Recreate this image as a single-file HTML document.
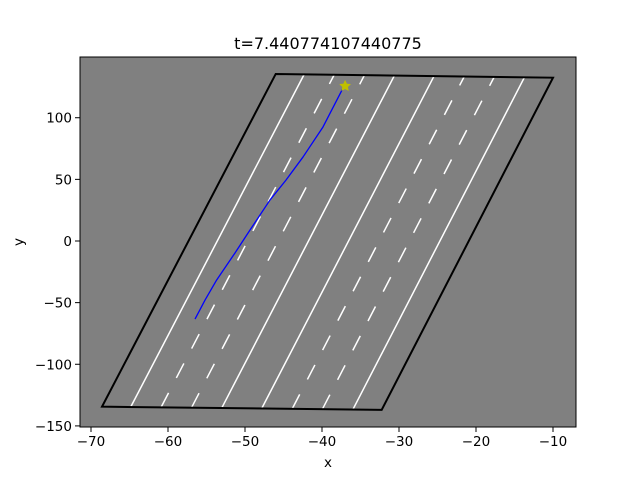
<!DOCTYPE html>
<html><head><meta charset="utf-8"><style>
body{margin:0;background:#fff;}
svg{display:block;font-family:"DejaVu Sans","Liberation Sans",sans-serif;}
</style></head><body>
<svg id="chart" width="640" height="480" viewBox="0 0 640 480"></svg>
<script>
const xTicks=[-70,-60,-50,-40,-30,-20,-10];
const yTicks=[-150,-100,-50,0,50,100];
const roadBL=[-68.57,-134.4];
const roadBR=[-32.25,-137.0];
const roadTR=[-10.0,132.5];
const roadTL=[-46.01,135.5];
const solidFractions=[0.1026,0.428,0.571,0.897];
const dashedFractions=[0.211,0.320,0.680,0.788];
const trajX=[-56.49,-55.19,-53.68,-51.30,-49.35,-46.75,-44.68,-42.47,-39.87,-37.27];
const trajY=[-63.3,-47.9,-31.6,-9.7,8.9,33.3,49.4,68.1,92.5,124.1];
const carPos=[-37.0,125.7];

const L=80,R=576,T=57,B=427;
function X(d){return 91+(d+70)*7.7;}
function Y(d){return 241-d*1.2327;}
const svg=document.getElementById('chart');
const NS='http://www.w3.org/2000/svg';
function mk(tag,attrs,parent){const e=document.createElementNS(NS,tag);for(const k in attrs)e.setAttribute(k,attrs[k]);(parent||svg).appendChild(e);return e;}

const bg=mk('rect',{x:L,y:T,width:R-L,height:B-T,fill:'#808080'});



const defs=mk('defs',{});
const cp=mk('clipPath',{id:'roadclip'},defs);
const corners=[roadBL,roadBR,roadTR,roadTL];
const ptsStr=corners.map(c=>X(c[0])+','+Y(c[1])).join(' ');
mk('polygon',{points:ptsStr},cp);
const cp2=mk('clipPath',{id:'axclip'},defs);
mk('rect',{x:L,y:T,width:R-L,height:B-T},cp2);

const g=mk('g',{'clip-path':'url(#roadclip)'});
function lanePts(f){
  const b=[roadBL[0]+(roadBR[0]-roadBL[0])*f, roadBL[1]+(roadBR[1]-roadBL[1])*f];
  const t=[roadTL[0]+(roadTR[0]-roadTL[0])*f, roadTL[1]+(roadTR[1]-roadTL[1])*f];
  return [b,t];
}
solidFractions.forEach((f,i)=>{
  const [b,t]=lanePts(f);
  const l=mk('line',{x1:X(b[0]),y1:Y(b[1]),x2:X(t[0]),y2:Y(t[1]),stroke:'#fff','stroke-width':1.5},g);
  
  
});
dashedFractions.forEach((f,i)=>{
  const [b,t]=lanePts(f);
  const x1=X(b[0]),y1=Y(b[1]),x2=X(t[0]),y2=Y(t[1]);
  const len=Math.hypot(x2-x1,y2-y1),vy=Math.abs(y2-y1);
  const d=14.5*len/vy,p=29.4*len/vy;
  const l=mk('line',{x1:x1,y1:y1,x2:x2,y2:y2,stroke:'#fff','stroke-width':1.5,'stroke-dasharray':d+' '+(p-d)},g);
  
  
});
const border=mk('polygon',{points:ptsStr,fill:'none',stroke:'#000','stroke-width':2,'clip-path':'url(#axclip)'});



let d='';
trajX.forEach((x,i)=>{d+=(i?' L':'M')+X(x)+' '+Y(trajY[i]);});
const traj=mk('path',{d:d,fill:'none',stroke:'#0000ff','stroke-width':1.3,'stroke-linejoin':'round'});



const cx=X(carPos[0]),cy=Y(carPos[1]);let sp=[];
for(let k=0;k<10;k++){const r=k%2?2.4:5;const a=-Math.PI/2+k*Math.PI/5;sp.push((cx+r*Math.cos(a))+','+(cy+r*Math.sin(a)));}
const star=mk('polygon',{points:sp.join(' '),fill:'#bfbf00',stroke:'#bfbf00','stroke-width':1});



const frame=mk('rect',{x:L,y:T,width:R-L,height:B-T,fill:'none',stroke:'#000','stroke-width':1});



xTicks.forEach(v=>{
  const x=X(v);
  mk('line',{x1:x,y1:B,x2:x,y2:B+5,stroke:'#000','stroke-width':1});
  const t=mk('text',{x:x,y:B+19,'text-anchor':'middle','font-size':13.5,fill:'#000'});
  t.textContent=v<0?'\u2212'+Math.abs(v):String(v);
  
  
});
yTicks.forEach(v=>{
  const y=Y(v);
  mk('line',{x1:L-5,y1:y,x2:L,y2:y,stroke:'#000','stroke-width':1});
  const t=mk('text',{x:L-8,y:y+5,'text-anchor':'end','font-size':13.5,fill:'#000'});
  t.textContent=v<0?'\u2212'+Math.abs(v):String(v);
  
  
});
const xl=mk('text',{x:328,y:467,'text-anchor':'middle','font-size':13.5});
xl.textContent='x';


const yl=mk('text',{x:23,y:242,'text-anchor':'middle','font-size':13.5,transform:'rotate(-90 23 242)'});
yl.textContent='y';


const title=mk('text',{x:328,y:49,'text-anchor':'middle','font-size':16});
title.textContent='t=7.440774107440775';


</script>
</body></html>
